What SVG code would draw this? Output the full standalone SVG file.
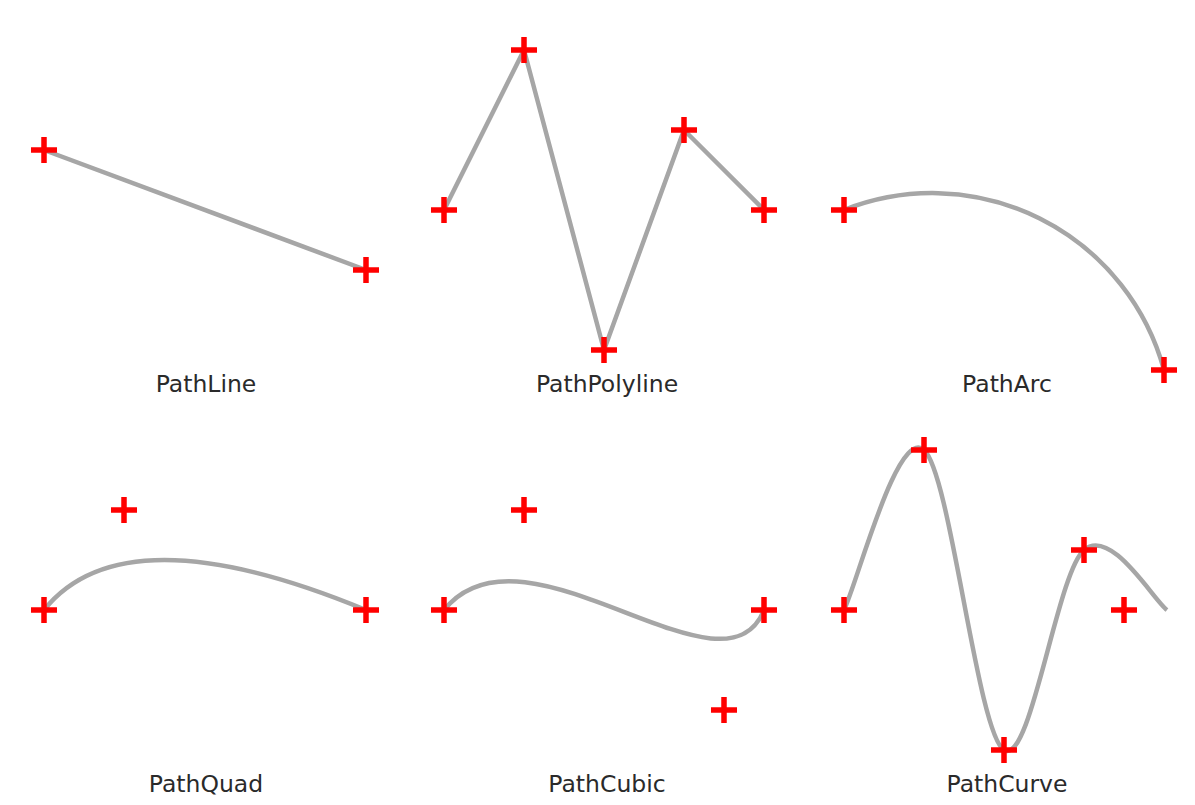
<svg xmlns="http://www.w3.org/2000/svg" width="1195" height="805" viewBox="0 0 1195 805">
<defs>
<style>
.path{fill:none;stroke:#a6a6a6;stroke-width:4.5;stroke-linejoin:round;stroke-linecap:butt}
.lbl{font-family:"DejaVu Sans",sans-serif;font-size:23.5px;fill:#2a2a2a;text-anchor:middle}
</style>
<g id="cross"><path d="M-13 0H13M0 -13V13" stroke="#ff0000" stroke-width="5.5" fill="none"/></g>
</defs>
<rect width="1195" height="805" fill="#ffffff"/>
<g id="connectors">
<path class="path" d="M44 150L366 270"/>
<path class="path" d="M444 210L524 50L604 350L684 130L764 210"/>
<path class="path" d="M844 210A240 240 0 0 1 1164 370"/>
<path class="path" d="M44 610Q124 510 366 610"/>
<path class="path" d="M444 610C524 510 724 710 764 610"/>
<path class="path" d="M844 610C857.3 583.3 897.3 426.7 924 450C950.7 473.3 977.3 733.3 1004 750C1030.7 766.7 1056.8 573.3 1084 550C1111.2 526.7 1153.2 600 1167 610"/>
</g>
<g id="pathline">
<use href="#cross" x="44" y="150"/><use href="#cross" x="366" y="270"/>
<text class="lbl" x="206" y="392">PathLine</text>
</g>
<g id="pathpolyline">
<use href="#cross" x="444" y="210"/><use href="#cross" x="524" y="50"/><use href="#cross" x="604" y="350"/><use href="#cross" x="684" y="130"/><use href="#cross" x="764" y="210"/>
<text class="lbl" x="607" y="392">PathPolyline</text>
</g>
<g id="patharc">
<use href="#cross" x="844" y="210"/><use href="#cross" x="1164" y="370"/>
<text class="lbl" x="1007" y="392">PathArc</text>
</g>
<g id="pathquad">
<use href="#cross" x="44" y="610"/><use href="#cross" x="124" y="510"/><use href="#cross" x="366" y="610"/>
<text class="lbl" x="206" y="792">PathQuad</text>
</g>
<g id="pathcubic">
<use href="#cross" x="444" y="610"/><use href="#cross" x="524" y="510"/><use href="#cross" x="724" y="710"/><use href="#cross" x="764" y="610"/>
<text class="lbl" x="607" y="792">PathCubic</text>
</g>
<g id="pathcurve">
<use href="#cross" x="844" y="610"/><use href="#cross" x="924" y="450"/><use href="#cross" x="1004" y="750"/><use href="#cross" x="1084" y="550"/><use href="#cross" x="1124" y="610"/>
<text class="lbl" x="1007" y="792">PathCurve</text>
</g>
</svg>
